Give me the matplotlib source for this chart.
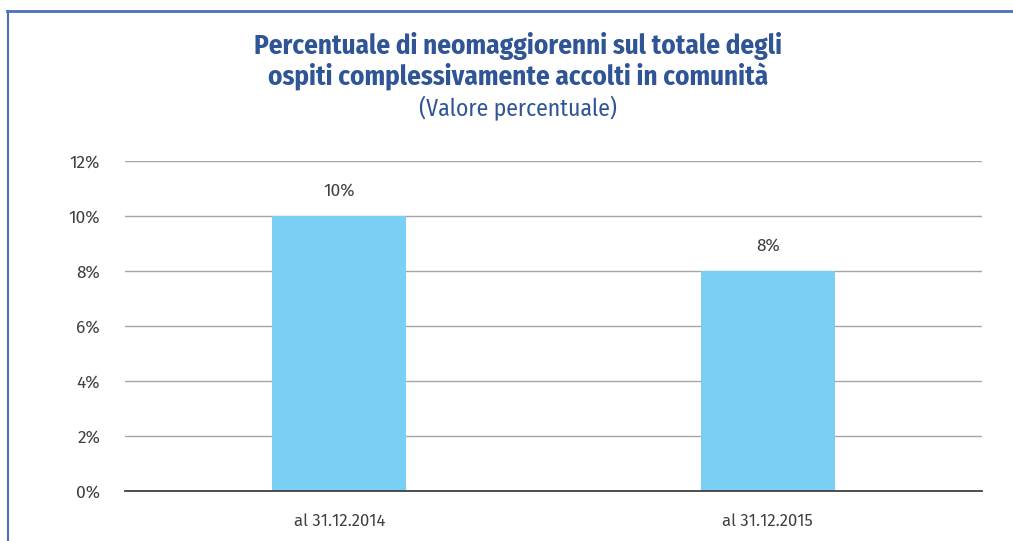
import matplotlib
matplotlib.use("Agg")
import matplotlib.pyplot as plt
from matplotlib.lines import Line2D
from matplotlib import font_manager

categories = ["al 31.12.2014", "al 31.12.2015"]
values = [10, 8]
value_labels = ["10%", "8%"]
yticks = [0, 2, 4, 6, 8, 10, 12]
ytick_labels = ["0%", "2%", "4%", "6%", "8%", "10%", "12%"]

names = {f.name for f in font_manager.fontManager.ttflist}
def pick(*cands):
    for c in cands:
        if c in names:
            return c
    return "DejaVu Sans"

title_font = pick("Fira Sans Condensed", "Barlow Condensed", "Asap Condensed")
text_font = pick("Fira Sans", "Open Sans")

W, H = 1013, 541
fig = plt.figure(figsize=(W / 100, H / 100), dpi=100)
ax = fig.add_axes([125 / W, 1 - 491 / H, (982 - 125) / W, (491 - 161) / H])

x = list(range(len(categories)))
ax.bar(x, values, width=0.313, color="#7AD0F4", zorder=2)
ax.set_xlim(-0.5, len(categories) - 0.5)
ax.set_ylim(0, 12)
ax.set_yticks(yticks)
ax.set_yticklabels(ytick_labels, fontfamily=text_font, fontweight="normal", fontsize=12.5, color="#404040")
ax.set_xticks(x)
ax.set_xticklabels(categories, fontfamily=text_font, fontweight="normal", fontsize=12, color="#404040")
ax.tick_params(axis="y", length=0, pad=18)
ax.tick_params(axis="x", length=0, pad=16)
ax.grid(axis="y", color="#A6A6A6", linewidth=1, zorder=0)
for s in ["top", "right", "left"]:
    ax.spines[s].set_visible(False)
ax.spines["bottom"].set_color("#404040")
ax.spines["bottom"].set_linewidth(1.3)
ax.spines["bottom"].set_zorder(3)

for xi, v, lab in zip(x, values, value_labels):
    ax.annotate(lab, (xi, v), xytext=(0, 12), textcoords="offset points",
                ha="center", va="bottom", fontfamily=text_font, fontweight="normal",
                fontsize=12.5, color="#404040")

blue = "#2F5597"
fig.text(518 / W, 1 - 46 / H, "Percentuale di neomaggiorenni sul totale degli",
         ha="center", va="center", fontfamily=title_font, fontweight="bold",
         fontsize=19.5, color=blue)
fig.text(518 / W, 1 - 77 / H, "ospiti complessivamente accolti in comunità",
         ha="center", va="center", fontfamily=title_font, fontweight="bold",
         fontsize=19.5, color=blue)
fig.text(518 / W, 1 - 108 / H, "(Valore percentuale)",
         ha="center", va="center", fontfamily=title_font, fontweight="normal",
         fontsize=17, color=blue)

frame = "#4A72B8"
fig.add_artist(Line2D([7 / W, 1], [1 - 10.5 / H, 1 - 10.5 / H], color=frame, linewidth=2, transform=fig.transFigure))
fig.add_artist(Line2D([8 / W, 8 / W], [1 - 10.5 / H, 0], color=frame, linewidth=1.5, transform=fig.transFigure))

fig.savefig("out.png", dpi=100)
